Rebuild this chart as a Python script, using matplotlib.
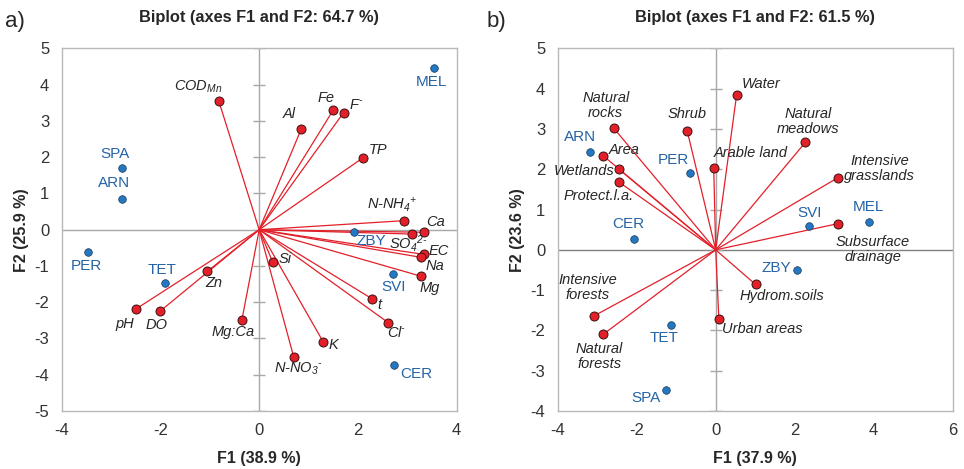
import matplotlib
matplotlib.use("Agg")
import matplotlib.pyplot as plt
import numpy as np

plt.rcParams['font.family'] = ['Liberation Sans', 'DejaVu Sans']
plt.rcParams['mathtext.fontset'] = 'custom'
plt.rcParams['mathtext.rm'] = 'Liberation Sans:italic'
plt.rcParams['mathtext.it'] = 'Liberation Sans:italic'
plt.rcParams['mathtext.bf'] = 'Liberation Sans:bold'
plt.rcParams['axes.unicode_minus'] = False

# ---------------- Panel a data ----------------
a_var_names = ["COD$_{Mn}$", "Al", "Fe", "F$^{\\text{-}}$", "TP", "N-NH$_{4}$$^{+}$", "Ca",
               "SO$_{4}$$^{2\\text{-}}$", "EC", "Na", "Mg", "t", "Cl$^{\\text{-}}$", "K",
               "N-NO$_{3}$$^{\\text{-}}$", "Si", "Mg:Ca", "Zn", "pH", "DO"]
a_var_x = [-0.82, 0.85, 1.50, 1.71, 2.11, 2.94, 3.33, 3.10, 3.33, 3.27, 3.27,
           2.28, 2.61, 1.30, 0.70, 0.27, -0.35, -1.05, -2.50, -2.00]
a_var_y = [3.56, 2.77, 3.30, 3.23, 1.99, 0.25, -0.07, -0.12, -0.68, -0.76, -1.28,
           -1.90, -2.56, -3.10, -3.51, -0.88, -2.49, -1.15, -2.19, -2.24]
a_obs_names = ["MEL", "SPA", "ARN", "PER", "TET", "ZBY", "SVI", "CER"]
a_obs_x = [3.55, -2.77, -2.77, -3.46, -1.91, 1.92, 2.72, 2.73]
a_obs_y = [4.45, 1.69, 0.85, -0.62, -1.46, -0.07, -1.23, -3.73]

# ---------------- Panel b data ----------------
b_var_names = ["Water", "Natural\nrocks", "Shrub", "Natural\nmeadows", "Area",
               "Wetlands", "Protect.l.a.", "Arable land", "Intensive\ngrasslands",
               "Subsurface\ndrainage", "Hydrom.soils", "Urban areas",
               "Intensive\nforests", "Natural\nforests"]
b_var_x = [0.53, -2.58, -0.72, 2.27, -2.84, -2.46, -2.46, -0.05, 3.09, 3.09,
           1.01, 0.08, -3.08, -2.85]
b_var_y = [3.85, 3.02, 2.95, 2.67, 2.33, 2.01, 1.69, 2.03, 1.79, 0.65,
           -0.86, -1.71, -1.64, -2.10]
b_obs_names = ["ARN", "PER", "SVI", "MEL", "CER", "ZBY", "TET", "SPA"]
b_obs_x = [-3.17, -0.66, 2.37, 3.87, -2.07, 2.06, -1.12, -1.25]
b_obs_y = [2.44, 1.90, 0.60, 0.70, 0.28, -0.51, -1.87, -3.49]

# label offsets (pixels) - styling only
a_var_off = [(-20, 14), (-12, 15), (-7, 12), (13, 8), (15, 8), (-12, 16), (12, 10),
             (-4, -9), (15, 3), (14, -9), (9, -12), (8, -6), (9, -10), (10, -3),
             (5, -12), (13, 3), (-9, -12), (6, -12), (-11, -15), (-4, -14)]
a_obs_off = [(-3, -14), (-7, 14), (-8, 16), (-2, -14), (-3, 13), (17, -9), (0, -13), (22, -9)]
b_var_off = [(24, 11), (-8, 23), (0, 17), (3, 21), (21, 6), (-34, -2), (-20, -14),
             (37, 15), (42, 9), (35, -26), (26, -12), (43, -10), (-6, 28), (-4, -22)]
b_obs_off = [(-10, 15), (-16, 13), (0, 13), (0, 15), (-6, 15), (-21, 2), (-7, -13), (-20, -8)]

RED = "#e3202a"
BLUE = "#2378c3"
BLUE_TXT = "#2563a5"
GRID = "#a8a8a8"

fig = plt.figure(figsize=(9.64, 4.69), dpi=100)


def draw_panel(ax, vx, vy, vnames, voff, ox, oy, onames, ooff,
               xlim, ylim, xticks, yticks, title, xlabel, ylabel, hcol):
    ax.set_xlim(*xlim)
    ax.set_ylim(*ylim)
    ax.axhline(0, color=hcol, lw=1.0, zorder=1)
    ax.axvline(0, color=GRID, lw=1.0, zorder=1)
    ax.plot(np.zeros(len(yticks)), yticks, ls="none", marker="_", ms=9,
            mew=1.0, color=GRID, zorder=1)
    for x, y in zip(vx, vy):
        ax.plot([0, x], [0, y], color=RED, lw=0.9, zorder=2)
    ax.scatter(vx, vy, s=42, color=RED, edgecolor="#3a1010", linewidth=0.7, zorder=4)
    ax.scatter(ox, oy, s=30, color=BLUE, edgecolor="#1a3550", linewidth=0.5, zorder=4)
    for x, y, n, o in zip(vx, vy, vnames, voff):
        ax.annotate(n, (x, y), xytext=o, textcoords="offset pixels",
                    ha="center", va="center", fontsize=10.5, style="italic",
                    color="#262626", linespacing=1.1, zorder=5)
    for x, y, n, o in zip(ox, oy, onames, ooff):
        ax.annotate(n, (x, y), xytext=o, textcoords="offset pixels",
                    ha="center", va="center", fontsize=11, color=BLUE_TXT, zorder=5)
    ax.set_xticks(xticks)
    ax.set_yticks(yticks)
    ax.tick_params(length=0, labelsize=12, colors="#333333", pad=9)
    for s in ax.spines.values():
        s.set_color("#b8b8b8")
        s.set_linewidth(1.0)
    ax.set_title(title, fontsize=11.8, fontweight="bold", color="#262626", pad=19)
    ax.set_xlabel(xlabel, fontsize=11.5, fontweight="bold", color="#262626", labelpad=9)
    ax.set_ylabel(ylabel, fontsize=11.5, fontweight="bold", color="#262626", labelpad=4)


ax1 = fig.add_axes([0.064, 0.1237, 0.4097, 0.773])
draw_panel(ax1, a_var_x, a_var_y, a_var_names, a_var_off,
           a_obs_x, a_obs_y, a_obs_names, a_obs_off,
           (-4, 4), (-5, 5), [-4, -2, 0, 2, 4], list(range(-5, 6)),
           "Biplot (axes F1 and F2: 64.7 %)", "F1 (38.9 %)", "F2 (25.9 %)", GRID)

ax2 = fig.add_axes([0.5785, 0.1237, 0.4098, 0.773])
draw_panel(ax2, b_var_x, b_var_y, b_var_names, b_var_off,
           b_obs_x, b_obs_y, b_obs_names, b_obs_off,
           (-4, 6), (-4, 5), [-4, -2, 0, 2, 4, 6], list(range(-4, 6)),
           "Biplot (axes F1 and F2: 61.5 %)", "F1 (37.9 %)", "F2 (23.6 %)", "#808080")

fig.text(0.005, 0.955, "a)", fontsize=16, color="#262626", va="center")
fig.text(0.505, 0.955, "b)", fontsize=16, color="#262626", va="center")

fig.savefig("out.png", dpi=100)
